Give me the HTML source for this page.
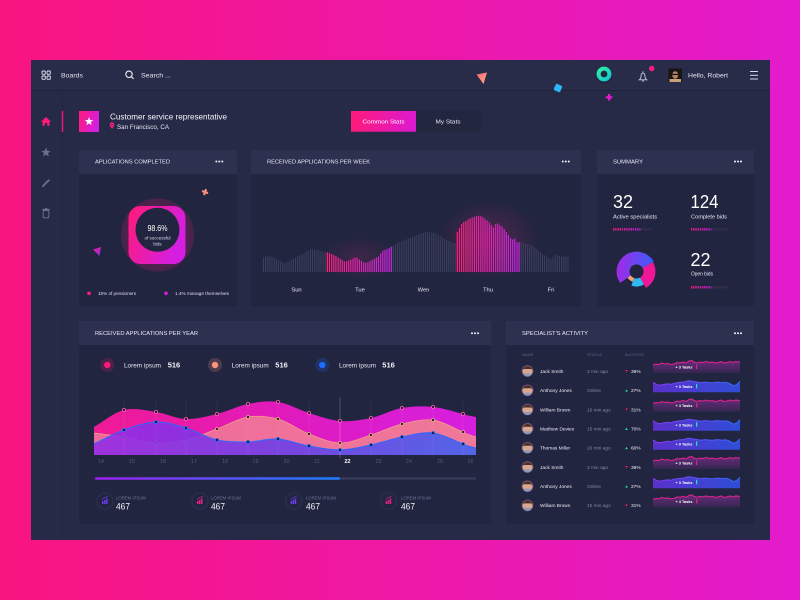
<!DOCTYPE html>
<html><head><meta charset="utf-8"><style>
html,body{margin:0;padding:0;width:800px;height:600px;overflow:hidden;background:#f0178f}
svg{display:block}
text{font-family:"Liberation Sans",sans-serif}
</style></head><body>
<svg width="800" height="600" viewBox="0 0 800 600" xmlns="http://www.w3.org/2000/svg">
<defs>
<linearGradient id="bg" x1="0" y1="0" x2="1" y2="0"><stop offset="0" stop-color="#f9157f"/><stop offset="1" stop-color="#e21bcd"/></linearGradient>
<linearGradient id="pm" x1="0" y1="0" x2="1" y2="0.4"><stop offset="0" stop-color="#ff1a78"/><stop offset="1" stop-color="#d41fe2"/></linearGradient>
<linearGradient id="btn" x1="0" y1="0" x2="1" y2="0"><stop offset="0" stop-color="#ff1a7a"/><stop offset="1" stop-color="#dc1ad2"/></linearGradient>
<linearGradient id="tue" gradientUnits="userSpaceOnUse" x1="327" y1="0" x2="392" y2="0"><stop offset="0" stop-color="#ff1f78"/><stop offset="1" stop-color="#c625e8"/></linearGradient>
<linearGradient id="thu" gradientUnits="userSpaceOnUse" x1="457" y1="0" x2="521" y2="0"><stop offset="0" stop-color="#ff1f78"/><stop offset="1" stop-color="#c625e8"/></linearGradient>
<radialGradient id="glow"><stop offset="0" stop-color="#ff2a8a" stop-opacity="0.22"/><stop offset="1" stop-color="#ff2a8a" stop-opacity="0"/></radialGradient>
<linearGradient id="magF" gradientUnits="userSpaceOnUse" x1="94" y1="0" x2="476" y2="0"><stop offset="0" stop-color="#ef1a95"/><stop offset="0.5" stop-color="#e01bbd"/><stop offset="1" stop-color="#d61fe0"/></linearGradient>
<linearGradient id="peaF" gradientUnits="userSpaceOnUse" x1="94" y1="0" x2="476" y2="0"><stop offset="0" stop-color="#ee6a9c"/><stop offset="1" stop-color="#f07898"/></linearGradient>
<linearGradient id="purF" gradientUnits="userSpaceOnUse" x1="94" y1="0" x2="476" y2="0"><stop offset="0" stop-color="#962ae6"/><stop offset="0.5" stop-color="#6a3ee8"/><stop offset="1" stop-color="#3d63f2"/></linearGradient>
<linearGradient id="prog" x1="0" y1="0" x2="1" y2="0"><stop offset="0" stop-color="#9b1ff0"/><stop offset="1" stop-color="#1a7dff"/></linearGradient>
<linearGradient id="don" x1="0" y1="0" x2="1" y2="0"><stop offset="0" stop-color="#a22ae6"/><stop offset="1" stop-color="#3a5cfb"/></linearGradient>
<linearGradient id="dashA" gradientUnits="userSpaceOnUse" x1="613" y1="0" x2="641" y2="0"><stop offset="0" stop-color="#ff1a7a"/><stop offset="1" stop-color="#c61fe6"/></linearGradient>
<linearGradient id="dashB" gradientUnits="userSpaceOnUse" x1="691" y1="0" x2="712" y2="0"><stop offset="0" stop-color="#ff1a7a"/><stop offset="1" stop-color="#c61fe6"/></linearGradient>
<linearGradient id="spPinkF" x1="0" y1="0" x2="0" y2="1"><stop offset="0" stop-color="#6a2a7c"/><stop offset="1" stop-color="#34284f"/></linearGradient>
<linearGradient id="spBlueF" x1="0" y1="0" x2="1" y2="0"><stop offset="0" stop-color="#5a30cc"/><stop offset="1" stop-color="#2f4ed6"/></linearGradient>
<linearGradient id="spBlueL" gradientUnits="userSpaceOnUse" x1="653" y1="0" x2="740" y2="0"><stop offset="0" stop-color="#8a3cf0"/><stop offset="1" stop-color="#2f6bff"/></linearGradient>
<linearGradient id="tri" x1="0" y1="0" x2="1" y2="1"><stop offset="0" stop-color="#ff5f6d"/><stop offset="1" stop-color="#f9b08b"/></linearGradient>
<linearGradient id="tri2" x1="0" y1="0" x2="1" y2="1"><stop offset="0" stop-color="#ee1f9a"/><stop offset="1" stop-color="#8a2be2"/></linearGradient>
<linearGradient id="teal" x1="0" y1="0" x2="1" y2="1"><stop offset="0" stop-color="#2cf0a8"/><stop offset="1" stop-color="#12c9cf"/></linearGradient>
<g id="spP">
<path d="M653,-6 L656,-7 L659,-6.5 L662,-8 L665,-7 L668,-7.5 L671,-6.5 L674,-7 L677,-8.5 L680,-8 L683,-9 L686,-8 L689,-10 L692,-10.5 L694,-9 L697,-8 L700,-9 L703,-8.5 L706,-9.5 L709,-8.5 L712,-9 L715,-8 L718,-8.5 L721,-9.5 L724,-8 L727,-8.5 L730,-9.5 L733,-8.5 L736,-9.5 L740,-9 L740,2 L653,2 Z" fill="url(#spPinkF)"/>
<path d="M653,-6 L656,-7 L659,-6.5 L662,-8 L665,-7 L668,-7.5 L671,-6.5 L674,-7 L677,-8.5 L680,-8 L683,-9 L686,-8 L689,-10 L692,-10.5 L694,-9 L697,-8 L700,-9 L703,-8.5 L706,-9.5 L709,-8.5 L712,-9 L715,-8 L718,-8.5 L721,-9.5 L724,-8 L727,-8.5 L730,-9.5 L733,-8.5 L736,-9.5 L740,-9" fill="none" stroke="#e8218f" stroke-width="1"/>
<rect x="696" y="-6.5" width="1.2" height="4.5" fill="#e91e8c"/>
</g>
<g id="spB">
<path d="M653,-8 L656,-6 L659,-5 L662,-5.5 L665,-6 L668,-6.5 L671,-6 L674,-7 L677,-7.5 L680,-8 L683,-8 L686,-9 L689,-9.5 L692,-9 L695,-8.5 L698,-8 L701,-7.5 L704,-8 L707,-8 L710,-7.5 L713,-7.5 L716,-8 L719,-8 L722,-7.5 L725,-8 L728,-7.5 L731,-6 L734,-4.5 L737,-6 L740,-9 L740,2 L653,2 Z" fill="url(#spBlueF)"/>
<path d="M653,-8 L656,-6 L659,-5 L662,-5.5 L665,-6 L668,-6.5 L671,-6 L674,-7 L677,-7.5 L680,-8 L683,-8 L686,-9 L689,-9.5 L692,-9 L695,-8.5 L698,-8 L701,-7.5 L704,-8 L707,-8 L710,-7.5 L713,-7.5 L716,-8 L719,-8 L722,-7.5 L725,-8 L728,-7.5 L731,-6 L734,-4.5 L737,-6 L740,-9" fill="none" stroke="url(#spBlueL)" stroke-width="1"/>
<rect x="696" y="-6.5" width="1.2" height="4.5" fill="#1de9b6"/>
</g>
<g id="av">
<circle cx="527.5" cy="0" r="6" fill="#5a3a6e"/>
<circle cx="527.5" cy="0" r="5.2" fill="#d7a88e"/>
<path d="M522.6,-1 A5,5 0 0 1 532.4,-1 L531,-2 L524,-2 Z" fill="#4a3028"/>
<path d="M523.5,3.5 A5,5 0 0 0 531.5,3.5 L531,2.5 L524,2.5 Z" fill="#8b9bb8"/>
</g>
</defs>

<rect width="800" height="600" fill="url(#bg)"/>
<!-- dashboard -->
<rect x="31" y="60" width="739" height="480" fill="#272a46"/>
<rect x="31" y="60" width="739" height="30" fill="#292c49"/>
<line x1="31" y1="90.5" x2="770" y2="90.5" stroke="#1f2239" stroke-width="1"/>
<line x1="62.5" y1="91" x2="62.5" y2="540" stroke="#22253e" stroke-width="1"/>

<!-- top bar -->
<g fill="none" stroke="#e6e8f4" stroke-width="0.9">
<rect x="42" y="71" width="3.3" height="3.3" rx="0.8"/><rect x="47" y="71" width="3.3" height="3.3" rx="0.8"/>
<rect x="42" y="76" width="3.3" height="3.3" rx="0.8"/><rect x="47" y="76" width="3.3" height="3.3" rx="0.8"/>
</g>
<text x="61" y="77.5" font-size="6.5" fill="#dfe1ef" textLength="22" lengthAdjust="spacingAndGlyphs">Boards</text>
<circle cx="129" cy="74.3" r="3.2" fill="none" stroke="#f0f1f8" stroke-width="1.1"/>
<line x1="131.4" y1="76.7" x2="133.6" y2="78.9" stroke="#f0f1f8" stroke-width="1.1"/>
<text x="141" y="77.5" font-size="6.5" fill="#e6e8f4" textLength="30" lengthAdjust="spacingAndGlyphs">Search ...</text>
<polygon points="476.5,74.5 487,72.5 483.5,84" fill="url(#tri)"/>
<rect x="554.5" y="84.5" width="7" height="7" rx="1.5" transform="rotate(25 558 88)" fill="#2db5f5"/>
<rect x="608" y="94" width="2.2" height="6.5" fill="#e21ad0"/><rect x="605.8" y="96.2" width="6.5" height="2.2" fill="#e21ad0"/>
<circle cx="604" cy="76" r="8" fill="#1b1e34" opacity="0.35"/>
<circle cx="604" cy="74" r="5.4" fill="none" stroke="url(#teal)" stroke-width="4"/>
<path d="M639.3,79.8 Q641.2,78.3 641.2,75 A1.8,1.8 0 0 1 644.8,75 Q644.8,78.3 646.7,79.8 Z" fill="none" stroke="#c9cce0" stroke-width="0.9"/>
<line x1="643" y1="71.3" x2="643" y2="72.8" stroke="#c9cce0" stroke-width="0.9"/>
<line x1="642" y1="81" x2="644" y2="81" stroke="#c9cce0" stroke-width="0.9"/>
<circle cx="651.7" cy="68.5" r="2.7" fill="#ff1a8c"/>
<rect x="668.5" y="68.5" width="13.5" height="13.5" fill="#1a1410"/>
<ellipse cx="675.2" cy="75" rx="3" ry="3.8" fill="#b88468"/>
<rect x="672.3" y="73.8" width="5.8" height="1.3" fill="#111"/>
<rect x="669.5" y="79" width="11.5" height="3" fill="#c9a07a"/>
<text x="688" y="77.5" font-size="6.5" fill="#e6e8f4" textLength="40" lengthAdjust="spacingAndGlyphs">Hello, Robert</text>
<g stroke="#d6d8ea" stroke-width="1"><line x1="750" y1="71.5" x2="758" y2="71.5"/><line x1="750" y1="75.3" x2="758" y2="75.3"/><line x1="750" y1="79" x2="758" y2="79"/></g>

<!-- sidebar -->
<path d="M41,121.8 L46,117 L51,121.8 L49.5,121.8 L49.5,125.8 L47.3,125.8 L47.3,123 L44.7,123 L44.7,125.8 L42.5,125.8 L42.5,121.8 Z" fill="#ff1a7a"/>
<line x1="62.5" y1="111" x2="62.5" y2="132" stroke="#f0157d" stroke-width="1.5"/>
<polygon points="46,147.5 47.23,150.8 50.76,150.96 48,153.15 48.94,156.55 46,154.6 43.06,156.55 44,153.15 41.24,150.96 44.77,150.8" fill="#6b6f8c"/>
<line x1="42.8" y1="186.3" x2="49.3" y2="179.8" stroke="#6b6f8c" stroke-width="1.8"/>
<polygon points="42,187.2 42.3,185.4 43.8,186.9" fill="#6b6f8c"/>
<rect x="43.2" y="210.5" width="5.6" height="7.3" rx="0.6" fill="none" stroke="#6b6f8c" stroke-width="1"/>
<line x1="42" y1="209.5" x2="50" y2="209.5" stroke="#6b6f8c" stroke-width="1"/>
<rect x="44.8" y="208" width="2.4" height="1.5" fill="#6b6f8c"/>

<!-- profile -->
<rect x="79" y="111" width="20" height="21" fill="url(#pm)"/>
<polygon points="0,-5 1.23,-1.7 4.76,-1.55 2,0.65 2.94,4.05 0,2.1 -2.94,4.05 -2,0.65 -4.76,-1.55 -1.23,-1.7" fill="#fff" transform="translate(89,121.5) scale(0.9)"/>
<text x="110" y="119.5" font-size="8.5" fill="#f2f3fa" textLength="117" lengthAdjust="spacingAndGlyphs">Customer service representative</text>
<path d="M112,129 C110.2,126.5 109.8,125.3 109.8,124.5 A2.2,2.2 0 1 1 114.2,124.5 C114.2,125.3 113.8,126.5 112,129 Z" fill="#ff1a8c"/>
<circle cx="112" cy="124.5" r="0.8" fill="#272a46"/>
<text x="117" y="128.8" font-size="6" fill="#e6e8f4" textLength="52" lengthAdjust="spacingAndGlyphs">San Francisco, CA</text>
<rect x="415" y="110.5" width="66.5" height="21" fill="#23263f"/>
<rect x="351" y="111" width="65" height="20.7" fill="url(#btn)"/>
<text x="383.5" y="123.5" font-size="5.8" fill="#fff" text-anchor="middle" textLength="42" lengthAdjust="spacingAndGlyphs">Common Stats</text>
<text x="448" y="123.5" font-size="5.8" fill="#e6e8f4" text-anchor="middle" textLength="25" lengthAdjust="spacingAndGlyphs">My Stats</text>

<!-- cards -->
<g>
<rect x="79" y="150" width="158" height="156" fill="#22253f"/>
<rect x="79" y="150" width="158" height="24" fill="#2d304f"/>
<rect x="251" y="150" width="330" height="156" fill="#22253f"/>
<rect x="251" y="150" width="330" height="24" fill="#2d304f"/>
<rect x="597" y="150" width="157" height="156" fill="#22253f"/>
<rect x="597" y="150" width="157" height="24" fill="#2d304f"/>
<rect x="79" y="321" width="412" height="203" fill="#22253f"/>
<rect x="79" y="321" width="412" height="24" fill="#2d304f"/>
<rect x="506" y="321" width="248" height="203" fill="#22253f"/>
<rect x="506" y="321" width="248" height="24" fill="#2d304f"/>
</g>
<g font-size="5.8" fill="#e8eaf7">
<text x="95" y="163.3" textLength="75" lengthAdjust="spacingAndGlyphs">APLICATIONS COMPLETED</text>
<text x="267" y="163.3" textLength="103" lengthAdjust="spacingAndGlyphs">RECEIVED APPLICATIONS PER WEEK</text>
<text x="613" y="163.3" textLength="30" lengthAdjust="spacingAndGlyphs">SUMMARY</text>
<text x="95" y="334.8" textLength="103" lengthAdjust="spacingAndGlyphs">RECEIVED APPLICATIONS PER YEAR</text>
<text x="522" y="334.8" textLength="66" lengthAdjust="spacingAndGlyphs">SPECIALIST'S ACTIVITY</text>
</g>
<g fill="#f2f3fa">
<circle cx="216.3" cy="161.5" r="1"/><circle cx="219.3" cy="161.5" r="1"/><circle cx="222.3" cy="161.5" r="1"/>
<circle cx="562.8" cy="161.5" r="1"/><circle cx="565.8" cy="161.5" r="1"/><circle cx="568.8" cy="161.5" r="1"/>
<circle cx="735" cy="161.5" r="1"/><circle cx="738" cy="161.5" r="1"/><circle cx="741" cy="161.5" r="1"/>
<circle cx="472" cy="333.3" r="1"/><circle cx="475" cy="333.3" r="1"/><circle cx="478" cy="333.3" r="1"/>
<circle cx="735" cy="333.3" r="1"/><circle cx="738" cy="333.3" r="1"/><circle cx="741" cy="333.3" r="1"/>
</g>

<!-- Applications completed -->
<circle cx="157.5" cy="235" r="38" fill="url(#glow)"/>
<g fill="#ff1a8a" opacity="0.16">
<rect x="126" y="203.5" width="63" height="63" rx="19" transform="rotate(12 157.5 235)"/>
<rect x="126" y="203.5" width="63" height="63" rx="19" transform="rotate(28 157.5 235)"/>
<rect x="126" y="203.5" width="63" height="63" rx="19" transform="rotate(45 157.5 235)"/>
<rect x="126" y="203.5" width="63" height="63" rx="19" transform="rotate(62 157.5 235)"/>
<rect x="126" y="203.5" width="63" height="63" rx="19" transform="rotate(78 157.5 235)"/>
</g>
<rect x="128.5" y="206" width="57" height="58" rx="12" fill="url(#pm)"/>
<circle cx="157.5" cy="229.8" r="22" fill="#22253f"/>
<text x="157.5" y="231" font-size="8" fill="#fff" text-anchor="middle" textLength="20" lengthAdjust="spacingAndGlyphs">98.6%</text>
<text x="157.5" y="239.5" font-size="4.5" fill="#d9dbea" text-anchor="middle">of successful</text>
<text x="157.5" y="245.5" font-size="4.5" fill="#d9dbea" text-anchor="middle">bids</text>
<g transform="rotate(20 205 192)"><rect x="204" y="188.8" width="2.2" height="6.5" rx="0.8" fill="#f9907c"/><rect x="201.8" y="191" width="6.5" height="2.2" rx="0.8" fill="#f9907c"/></g>
<polygon points="93,249.5 101,247 99.5,256" fill="url(#tri2)"/>
<circle cx="89" cy="293.3" r="1.8" fill="#ff1a7a"/>
<text x="98" y="295" font-size="4.6" fill="#dcdef0" textLength="38" lengthAdjust="spacingAndGlyphs">15% of pensioners</text>
<circle cx="166" cy="293.3" r="1.8" fill="#d81fe0"/>
<text x="175" y="295" font-size="4.6" fill="#dcdef0" textLength="54" lengthAdjust="spacingAndGlyphs">1.4% manage themselves</text>

<!-- weekly bars -->
<ellipse cx="489" cy="240" rx="50" ry="40" fill="url(#glow)"/>
<ellipse cx="360" cy="258" rx="40" ry="22" fill="url(#glow)" opacity="0.6"/>
<path stroke="#3b3e5d" stroke-width="1.1" fill="none" d="M263.5 257V272M265.6 256.5V272M267.8 256V272M269.9 256.3V272M272 257V272M274.2 258V272M276.3 259V272M278.4 260V272M280.5 261V272M282.7 262.3V272M284.8 263.3V272M286.9 262.5V272M289.1 261.3V272M291.2 260V272M293.3 259V272M295.5 258V272M297.6 256.8V272M299.7 255.5V272M301.8 254.5V272M304 253.5V272M306.1 252V272M308.2 250.8V272M310.4 249.8V272M312.5 249.3V272M314.6 249.5V272M316.8 249.8V272M318.9 250.2V272M321 251V272M323.1 251.5V272M325.3 252V272
M393.4 245.5V272M395.6 244V272M397.7 242.7V272M399.8 242V272M402 241.1V272M404.1 240.2V272M406.2 239.4V272M408.3 238.6V272M410.5 237.8V272M412.6 237V272M414.7 236.1V272M416.9 235.3V272M419 234.4V272M421.1 233.6V272M423.3 232.7V272M425.4 232V272M427.5 232.2V272M429.6 232.4V272M431.8 232.6V272M433.9 232.9V272M436 233.6V272M438.2 234.9V272M440.3 236.2V272M442.4 237.6V272M444.6 238.8V272M446.7 239.9V272M448.8 241.2V272M450.9 242.4V272M453.1 243V272M455.2 243V272
M521.2 242.5V272M523.3 243V272M525.5 243.5V272M527.6 244V272M529.7 245V272M531.8 246V272M534 247V272M536.1 248.5V272M538.2 250V272M540.4 252V272M542.5 254V272M544.6 255.3V272M546.8 256.8V272M548.9 258.3V272M551 259.3V272M553.1 257V272M555.3 255V272M557.4 255.5V272M559.5 256V272M561.7 256.5V272M563.8 256.5V272M565.9 256.7V272M568 256.7V272"/>
<path stroke="url(#tue)" stroke-width="1.2" fill="none" d="M327.4 252.3V272M329.5 253V272M331.7 254V272M333.8 255V272M335.9 256V272M338.1 257.5V272M340.2 258.7V272M342.3 260V272M344.4 261.5V272M346.6 261.2V272M348.7 260.5V272M350.8 259.8V272M353 258.5V272M355.1 257.5V272M357.2 258V272M359.4 259.5V272M361.5 261V272M363.6 262.5V272M365.7 263V272M367.9 262.3V272M370 261.2V272M372.1 260V272M374.3 258.7V272M376.4 257.5V272M378.5 256.5V272M380.7 253.5V272M382.8 250.5V272M384.9 250V272M387 249.3V272M389.2 248V272M391.3 246.8V272"/>
<path stroke="url(#thu)" stroke-width="1.2" fill="none" d="M457.3 231.7V272M459.5 228V272M461.6 224V272M463.7 222V272M465.9 221V272M468 219.5V272M470.1 218.5V272M472.2 217.5V272M474.4 216.8V272M476.5 216V272M478.6 215.7V272M480.8 216.3V272M482.9 217.2V272M485 218.8V272M487.1 220.5V272M489.3 222.3V272M491.4 225V272M493.5 227.5V272M495.7 224V272M497.8 223.5V272M499.9 225.2V272M502.1 226.5V272M504.2 229V272M506.3 232V272M508.4 235V272M510.6 238V272M512.7 239.5V272M514.8 238.5V272M517 242.5V272M519.1 242V272"/>
<g font-size="5.8" fill="#e6e8f4" text-anchor="middle">
<text x="296.5" y="291.5">Sun</text><text x="360" y="291.5">Tue</text><text x="423.5" y="291.5">Wen</text><text x="488" y="291.5">Thu</text><text x="551" y="291.5">Fri</text>
</g>

<!-- summary -->
<text x="613" y="208" font-size="18" fill="#fff" textLength="20" lengthAdjust="spacingAndGlyphs">32</text>
<text x="613" y="218.3" font-size="5.5" fill="#e6e8f4" textLength="44" lengthAdjust="spacingAndGlyphs">Active specialists</text>
<line x1="613" y1="229.3" x2="640.5" y2="229.3" stroke="url(#dashA)" stroke-width="2.4" stroke-dasharray="1.3 0.9"/>
<line x1="641" y1="229.3" x2="651" y2="229.3" stroke="#3a3050" stroke-width="2.4" stroke-dasharray="1.3 0.9"/>
<text x="690.5" y="208" font-size="18" fill="#fff" textLength="28" lengthAdjust="spacingAndGlyphs">124</text>
<text x="691" y="218.3" font-size="5.5" fill="#e6e8f4" textLength="36" lengthAdjust="spacingAndGlyphs">Complete bids</text>
<line x1="691" y1="229.3" x2="711.5" y2="229.3" stroke="url(#dashB)" stroke-width="2.4" stroke-dasharray="1.3 0.9"/>
<line x1="712" y1="229.3" x2="728" y2="229.3" stroke="#3a3050" stroke-width="2.4" stroke-dasharray="1.3 0.9"/>
<text x="690.5" y="266" font-size="18" fill="#fff" textLength="20" lengthAdjust="spacingAndGlyphs">22</text>
<text x="691" y="275.5" font-size="5.5" fill="#e6e8f4" textLength="22" lengthAdjust="spacingAndGlyphs">Open bids</text>
<line x1="691" y1="287.3" x2="711.5" y2="287.3" stroke="url(#dashB)" stroke-width="2.4" stroke-dasharray="1.3 0.9"/>
<line x1="712" y1="287.3" x2="728" y2="287.3" stroke="#3a3050" stroke-width="2.4" stroke-dasharray="1.3 0.9"/>
<path d="M620.1,283 A20,20 0 1 1 653.8,261.5 L642.6,268 A7,7 0 1 0 630.8,275.5 Z" fill="url(#don)"/>
<path d="M652.95,262 A19,19 0 0 1 646,287.95 L640,277.6 A7,7 0 0 0 642.6,268 Z" fill="#ee1896"/>
<path d="M644,284.5 A15,15 0 0 1 631.4,285.6 L634.1,278.1 A7,7 0 0 0 640,277.6 Z" fill="#2fb8f2"/>
<path d="M632.7,281.8 A11,11 0 0 1 627.5,277.8 L630.8,275.5 A7,7 0 0 0 634.1,278.1 Z" fill="#f7a072"/>

<!-- per year legend -->
<circle cx="107.3" cy="365" r="7" fill="#ff1a7a" opacity="0.18"/><circle cx="107.3" cy="365" r="3.2" fill="#ff1a7a"/>
<text x="124" y="367.3" font-size="6" fill="#e6e8f4" textLength="37" lengthAdjust="spacingAndGlyphs">Lorem ipsum</text>
<text x="167.7" y="367.5" font-size="7.5" font-weight="bold" fill="#f2f3fa" textLength="12.5" lengthAdjust="spacingAndGlyphs">516</text>
<circle cx="215" cy="365" r="7" fill="#f7957a" opacity="0.2"/><circle cx="215" cy="365" r="3.2" fill="#f7957a"/>
<text x="231.7" y="367.3" font-size="6" fill="#e6e8f4" textLength="37" lengthAdjust="spacingAndGlyphs">Lorem ipsum</text>
<text x="275.3" y="367.5" font-size="7.5" font-weight="bold" fill="#f2f3fa" textLength="12.5" lengthAdjust="spacingAndGlyphs">516</text>
<circle cx="322.3" cy="365" r="7" fill="#1e6bff" opacity="0.2"/><circle cx="322.3" cy="365" r="3.2" fill="#1e6bff"/>
<text x="339" y="367.3" font-size="6" fill="#e6e8f4" textLength="37" lengthAdjust="spacingAndGlyphs">Lorem ipsum</text>
<text x="382.3" y="367.5" font-size="7.5" font-weight="bold" fill="#f2f3fa" textLength="12.5" lengthAdjust="spacingAndGlyphs">516</text>

<!-- per year area chart -->
<path d="M94,427 C104,421.3 113.7,412.5 124,410 C134.3,407.5 145.7,410.5 156,412 C166.3,413.5 175.8,418.7 186,419 C196.2,419.3 206.7,416.5 217,414 C227.3,411.5 237.8,406 248,404 C258.2,402 267.8,400.5 278,402 C288.2,403.5 298.7,409.8 309,413 C319.3,416.2 329.7,420.2 340,421 C350.3,421.8 360.7,420.2 371,418 C381.3,415.8 391.7,409.8 402,408 C412.3,406.2 422.8,406 433,407 C443.2,408 455.8,412.3 463,414 C467.3,415.7 471.7,416 476,417 L476,455 L94,455 Z" fill="url(#magF)"/>
<path d="M94,433 C104,434.3 113.7,435.3 124,437 C134.3,438.7 145.7,442.5 156,443 C166.3,443.5 175.8,442.3 186,440 C196.2,437.7 206.7,432.8 217,429 C227.3,425.2 237.8,418.7 248,417 C258.2,415.3 267.8,416.2 278,419 C288.2,421.8 298.7,430 309,434 C319.3,438 329.7,442.8 340,443 C350.3,443.2 360.7,438.2 371,435 C381.3,431.8 391.7,426.5 402,424 C412.3,421.5 422.8,418.7 433,420 C443.2,421.3 455.8,429.2 463,432 C467.3,434.8 471.7,435.3 476,437 L476,455 L94,455 Z" fill="url(#peaF)"/>
<path d="M94,433 C104,434.3 113.7,435.3 124,437 C134.3,438.7 145.7,442.5 156,443 C166.3,443.5 175.8,442.3 186,440 C196.2,437.7 206.7,432.8 217,429 C227.3,425.2 237.8,418.7 248,417 C258.2,415.3 267.8,416.2 278,419 C288.2,421.8 298.7,430 309,434 C319.3,438 329.7,442.8 340,443 C350.3,443.2 360.7,438.2 371,435 C381.3,431.8 391.7,426.5 402,424 C412.3,421.5 422.8,418.7 433,420 C443.2,421.3 455.8,429.2 463,432 C467.3,434.8 471.7,435.3 476,437" fill="none" stroke="#f8a08c" stroke-width="0.7"/>
<g fill="#1d1f38" stroke="#f6a07e" stroke-width="0.8">
<circle cx="124" cy="437" r="1.6"/><circle cx="156" cy="443" r="1.6"/><circle cx="186" cy="440" r="1.6"/><circle cx="217" cy="429" r="1.6"/><circle cx="248" cy="417" r="1.6"/><circle cx="278" cy="419" r="1.6"/><circle cx="309" cy="434" r="1.6"/><circle cx="340" cy="443" r="1.6"/><circle cx="371" cy="435" r="1.6"/><circle cx="402" cy="424" r="1.6"/><circle cx="433" cy="420" r="1.6"/><circle cx="463" cy="432" r="1.6"/>
</g>
<path d="M94,444 C104,439.3 113.7,433.7 124,430 C134.3,426.3 145.7,422.3 156,422 C166.3,421.7 175.8,425 186,428 C196.2,431 206.7,437.7 217,440 C227.3,442.3 237.8,442.2 248,442 C258.2,441.8 267.8,438.3 278,439 C288.2,439.7 298.7,444.2 309,446 C319.3,447.8 329.7,450.2 340,450 C350.3,449.8 360.7,447.2 371,445 C381.3,442.8 391.7,439 402,437 C412.3,435 422.8,431.8 433,433 C443.2,434.2 455.8,441.5 463,444 C467.3,446.5 471.7,446.7 476,448 L476,455 L94,455 Z" fill="url(#purF)" opacity="0.88"/>
<path d="M94,444 C104,439.3 113.7,433.7 124,430 C134.3,426.3 145.7,422.3 156,422 C166.3,421.7 175.8,425 186,428 C196.2,431 206.7,437.7 217,440 C227.3,442.3 237.8,442.2 248,442 C258.2,441.8 267.8,438.3 278,439 C288.2,439.7 298.7,444.2 309,446 C319.3,447.8 329.7,450.2 340,450 C350.3,449.8 360.7,447.2 371,445 C381.3,442.8 391.7,439 402,437 C412.3,435 422.8,431.8 433,433 C443.2,434.2 455.8,441.5 463,444 C467.3,446.5 471.7,446.7 476,448" fill="none" stroke="#2f66ff" stroke-width="1"/>
<g stroke="#ffffff" stroke-opacity="0.07" stroke-width="0.8">
<line x1="124" y1="400" x2="124" y2="455"/><line x1="156" y1="400" x2="156" y2="455"/><line x1="186" y1="400" x2="186" y2="455"/><line x1="217" y1="400" x2="217" y2="455"/><line x1="248" y1="400" x2="248" y2="455"/><line x1="278" y1="400" x2="278" y2="455"/><line x1="309" y1="400" x2="309" y2="455"/><line x1="371" y1="400" x2="371" y2="455"/><line x1="402" y1="400" x2="402" y2="455"/><line x1="433" y1="400" x2="433" y2="455"/><line x1="463" y1="400" x2="463" y2="455"/>
</g>
<line x1="340" y1="397" x2="340" y2="458" stroke="#ffffff" stroke-opacity="0.3" stroke-width="0.7"/>
<g fill="#1d1f38" stroke="#2f6bff" stroke-width="0.8">
<circle cx="124" cy="430" r="1.6"/><circle cx="156" cy="422" r="1.6"/><circle cx="186" cy="428" r="1.6"/><circle cx="217" cy="440" r="1.6"/><circle cx="248" cy="442" r="1.6"/><circle cx="278" cy="439" r="1.6"/><circle cx="309" cy="446" r="1.6"/><circle cx="340" cy="450" r="1.6"/><circle cx="371" cy="445" r="1.6"/><circle cx="402" cy="437" r="1.6"/><circle cx="433" cy="433" r="1.6"/><circle cx="463" cy="444" r="1.6"/>
</g>
<g fill="#1d1f38" stroke="#ff5fb0" stroke-width="0.8">
<circle cx="124" cy="410" r="1.6"/><circle cx="156" cy="412" r="1.6"/><circle cx="186" cy="419" r="1.6"/><circle cx="217" cy="414" r="1.6"/><circle cx="248" cy="404" r="1.6"/><circle cx="278" cy="402" r="1.6"/><circle cx="309" cy="413" r="1.6"/><circle cx="340" cy="421" r="1.6"/><circle cx="371" cy="418" r="1.6"/><circle cx="402" cy="408" r="1.6"/><circle cx="433" cy="407" r="1.6"/><circle cx="463" cy="414" r="1.6"/>
</g>
<g font-size="5.3" fill="#565a7c" text-anchor="middle">
<text x="101" y="462.8">14</text><text x="132" y="462.8">15</text><text x="163" y="462.8">16</text><text x="194" y="462.8">17</text><text x="225" y="462.8">18</text><text x="255.5" y="462.8">19</text><text x="286.5" y="462.8">20</text><text x="317" y="462.8">21</text><text x="347.5" y="462.8" fill="#ffffff" font-weight="bold">22</text><text x="378.5" y="462.8">23</text><text x="409" y="462.8">24</text><text x="440" y="462.8">25</text><text x="470.5" y="462.8">26</text>
</g>
<rect x="95" y="477.3" width="381" height="2.4" rx="1" fill="#363957"/>
<rect x="95" y="477.3" width="245" height="2.4" rx="1" fill="url(#prog)"/>

<!-- bottom stats -->
<g>
<circle cx="105" cy="501" r="8" fill="#22253f" stroke="#2c2f4d" stroke-width="1.3"/>
<circle cx="200" cy="501" r="8" fill="#22253f" stroke="#2c2f4d" stroke-width="1.3"/>
<circle cx="293.7" cy="501" r="8" fill="#22253f" stroke="#2c2f4d" stroke-width="1.3"/>
<circle cx="388.7" cy="501" r="8" fill="#22253f" stroke="#2c2f4d" stroke-width="1.3"/>
<g fill="#6a3df0"><rect x="102" y="501" width="1.5" height="3"/><rect x="104" y="500" width="1.5" height="4"/><rect x="106" y="498.5" width="1.5" height="5.5"/><path d="M101.8,499.5 L104,498 L106.3,497 L108,496" stroke="#6a3df0" stroke-width="0.7" fill="none"/></g>
<g fill="#e91e8c"><rect x="197" y="501" width="1.5" height="3"/><rect x="199" y="500" width="1.5" height="4"/><rect x="201" y="498.5" width="1.5" height="5.5"/><path d="M196.8,499.5 L199,498 L201.3,497 L203,496" stroke="#e91e8c" stroke-width="0.7" fill="none"/></g>
<g fill="#6a3df0"><rect x="290.7" y="501" width="1.5" height="3"/><rect x="292.7" y="500" width="1.5" height="4"/><rect x="294.7" y="498.5" width="1.5" height="5.5"/><path d="M290.5,499.5 L292.7,498 L295,497 L296.7,496" stroke="#6a3df0" stroke-width="0.7" fill="none"/></g>
<g fill="#e91e8c"><rect x="385.7" y="501" width="1.5" height="3"/><rect x="387.7" y="500" width="1.5" height="4"/><rect x="389.7" y="498.5" width="1.5" height="5.5"/><path d="M385.5,499.5 L387.7,498 L390,497 L391.7,496" stroke="#e91e8c" stroke-width="0.7" fill="none"/></g>
</g>
<g font-size="4.3" fill="#6f7394">
<text x="116" y="499.3" textLength="30" lengthAdjust="spacingAndGlyphs">LOREM IPSUM</text>
<text x="211" y="499.3" textLength="30" lengthAdjust="spacingAndGlyphs">LOREM IPSUM</text>
<text x="306" y="499.3" textLength="30" lengthAdjust="spacingAndGlyphs">LOREM IPSUM</text>
<text x="401" y="499.3" textLength="30" lengthAdjust="spacingAndGlyphs">LOREM IPSUM</text>
</g>
<g font-size="9" fill="#f2f3fa">
<text x="116" y="509.5" textLength="14" lengthAdjust="spacingAndGlyphs">467</text>
<text x="211" y="509.5" textLength="14" lengthAdjust="spacingAndGlyphs">467</text>
<text x="306" y="509.5" textLength="14" lengthAdjust="spacingAndGlyphs">467</text>
<text x="401" y="509.5" textLength="14" lengthAdjust="spacingAndGlyphs">467</text>
</g>

<!-- specialist activity -->
<g font-size="4" fill="#5d6186">
<text x="522" y="356">NAME</text><text x="587" y="356">STATUS</text><text x="624.7" y="356">SUCCESS</text>
</g>
<g transform="translate(0,371)"><use href="#spP"/><use href="#av"/></g>
<g transform="translate(0,390.3)"><use href="#spB"/><use href="#av"/></g>
<g transform="translate(0,409.5)"><use href="#spP"/><use href="#av"/></g>
<g transform="translate(0,428.7)"><use href="#spB"/><use href="#av"/></g>
<g transform="translate(0,447.8)"><use href="#spB"/><use href="#av"/></g>
<g transform="translate(0,467)"><use href="#spP"/><use href="#av"/></g>
<g transform="translate(0,486.2)"><use href="#spB"/><use href="#av"/></g>
<g transform="translate(0,505.4)"><use href="#spP"/><use href="#av"/></g>
<g font-size="4.8" fill="#e8eaf5">
<text x="540" y="372.8">Jack Smith</text>
<text x="540" y="392.1">Anthony Jones</text>
<text x="540" y="411.3">William Brown</text>
<text x="540" y="430.5">Matthew Devies</text>
<text x="540" y="449.6">Thomas Miller</text>
<text x="540" y="468.8">Jack Smith</text>
<text x="540" y="488">Anthony Jones</text>
<text x="540" y="507.2">William Brown</text>
</g>
<g font-size="4.8" fill="#868aa8">
<text x="587" y="372.8">2 min ago</text>
<text x="587" y="392.1">Online</text>
<text x="587" y="411.3">10 min ago</text>
<text x="587" y="430.5">15 min ago</text>
<text x="587" y="449.6">20 min ago</text>
<text x="587" y="468.8">2 min ago</text>
<text x="587" y="488">Online</text>
<text x="587" y="507.2">10 min ago</text>
</g>
<g>
<polygon points="625.2,370 627.8,370 626.5,372.2" fill="#e91e63"/>
<polygon points="625.2,391.6 627.8,391.6 626.5,389.4" fill="#1de9a0"/>
<polygon points="625.2,408.5 627.8,408.5 626.5,410.7" fill="#e91e63"/>
<polygon points="625.2,430 627.8,430 626.5,427.8" fill="#1de9a0"/>
<polygon points="625.2,449.1 627.8,449.1 626.5,446.9" fill="#1de9a0"/>
<polygon points="625.2,466 627.8,466 626.5,468.2" fill="#e91e63"/>
<polygon points="625.2,487.5 627.8,487.5 626.5,485.3" fill="#1de9a0"/>
<polygon points="625.2,504.4 627.8,504.4 626.5,506.6" fill="#e91e63"/>
</g>
<g font-size="4.8" fill="#f2f3fa">
<text x="631" y="372.8">36%</text>
<text x="631" y="392.1">27%</text>
<text x="631" y="411.3">31%</text>
<text x="631" y="430.5">70%</text>
<text x="631" y="449.6">60%</text>
<text x="631" y="468.8">36%</text>
<text x="631" y="488">27%</text>
<text x="631" y="507.2">31%</text>
</g>
<g font-size="3.8" font-weight="bold" fill="#ffffff" text-anchor="middle">
<text x="684" y="368.7">+ 3 Tasks</text>
<text x="684" y="388">+ 3 Tasks</text>
<text x="684" y="407.2">+ 4 Tasks</text>
<text x="684" y="426.4">+ 3 Tasks</text>
<text x="684" y="445.5">+ 9 Tasks</text>
<text x="684" y="464.7">+ 3 Tasks</text>
<text x="684" y="483.9">+ 3 Tasks</text>
<text x="684" y="503.1">+ 4 Tasks</text>
</g>
</svg>
</body></html>
